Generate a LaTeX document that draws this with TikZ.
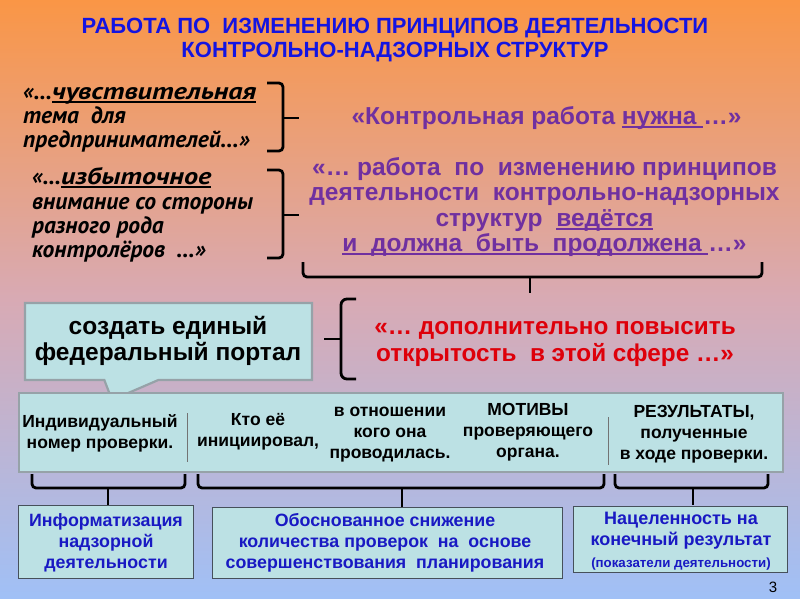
\documentclass[tikz,border=0pt]{standalone}
\usepackage{fontspec}
\setmainfont{Liberation Sans}
\newfontfamily\italfont{PT Sans}
\newfontfamily\italwide[FakeStretch=1.2]{PT Sans}
\newsavebox\ulbox
\newcommand\uln[1]{\sbox\ulbox{#1}\rlap{\rule[-3.4pt]{\wd\ulbox}{1.7pt}}\usebox\ulbox}
\usetikzlibrary{shapes.callouts}
\definecolor{titleblue}{RGB}{20,20,225}
\definecolor{purp}{RGB}{112,48,160}
\definecolor{redt}{RGB}{222,0,10}
\definecolor{boxfill}{RGB}{188,225,228}
\definecolor{boxline}{RGB}{150,162,168}
\definecolor{darkline}{RGB}{70,80,90}
\definecolor{boxblue}{RGB}{25,25,195}
\definecolor{bgtop}{RGB}{250,150,70}
\definecolor{bgmid}{RGB}{216,170,180}
\definecolor{bgbot}{RGB}{160,192,246}
\begin{document}
\begin{tikzpicture}[x=1pt,y=-1pt,
  brace/.style={draw=black, line width=2.8pt, rounded corners=4pt},
  lightbox/.style={draw=boxline, line width=2.2pt, fill=boxfill},
  bottombox/.style={draw=darkline, line width=1.4pt, fill=boxfill},
  quote/.style={align=left, inner sep=0pt, text=black, font=\italfont\bfseries\itshape\fontsize{23.5}{24.3}\selectfont},
  purple/.style={align=center, inner sep=0pt, text=purp, font=\bfseries\fontsize{24.5}{25.5}\selectfont},
  coltext/.style={align=center, inner sep=0pt, text=black, font=\bfseries\fontsize{17.5}{21}\selectfont},
  boxtext/.style={align=center, inner sep=0pt, text=boxblue, font=\bfseries\fontsize{17.8}{21.3}\selectfont}]
\useasboundingbox (0,0) rectangle (800,598);
\fill[top color=bgtop, bottom color=bgbot, middle color=bgmid] (0,0) rectangle (800,598);

% title
\node[align=center, inner sep=0pt, text=titleblue, font=\bfseries\fontsize{22}{24}\selectfont] (title) at (395,40)
  {РАБОТА ПО\ \ ИЗМЕНЕНИЮ ПРИНЦИПОВ ДЕЯТЕЛЬНОСТИ\\КОНТРОЛЬНО-НАДЗОРНЫХ СТРУКТУР};

% left quotes
\node[quote, anchor=west] (q1) at (23,120) {«…{\italwide\uln{чувствительная}}\\тема\ \ для\\предпринимателей…»};
\node[quote, anchor=west] (q2) at (32,215) {«…{\italwide\uln{избыточное}}\\внимание со стороны\\разного рода\\контролёров\ \ …»};

% right brackets
\draw[brace] (267,83) -- (283,83) -- (283,151) -- (267,151);
\draw[brace] (283,118) -- (299,118);
\draw[brace] (267,170) -- (283,170) -- (283,258) -- (267,258);
\draw[brace] (283,215) -- (299,215);

% purple texts
\node[purple] (p1) at (546.5,118) {«Контрольная работа \uln{нужна }…»};
\node[purple] (p2) at (544.5,207) {«… работа\ \ по\ \ изменению принципов\\деятельности\ \ контрольно-надзорных\\структур\ \ \uln{ведётся}\\\uln{и\ \ должна\ \ быть\ \ продолжена }…»};

% under brace
\draw[brace] (303,262) -- (303,277) -- (762,277) -- (762,262);
\draw[brace] (530,277) -- (530,293);

% callout
\node[rectangle callout, lightbox, minimum width=287pt, minimum height=77pt,
  callout absolute pointer={(112,400)}, callout pointer width=54pt] (portal) at (168.5,341.5) {};
\node[align=center, inner sep=0pt, font=\bfseries\fontsize{24.5}{26}\selectfont] (portaltext) at (168,341) {создать единый\\федеральный портал};

% left curly bracket
\draw[brace, rounded corners=6pt] (356,299) -- (341,299) -- (341,379) -- (356,379);
\draw[brace] (341,339) -- (324,339);

\node[align=center, inner sep=0pt, text=redt, font=\bfseries\fontsize{24.3}{26.5}\selectfont] (red) at (555,344)
  {«… дополнительно повысить\\открытость\ \ в этой сфере …»};

% table
\node[lightbox, minimum width=764pt, minimum height=79pt, anchor=north west] (table) at (18,392) {};
\draw[black!55, line width=1pt] (187,413) -- (187,462);
\draw[black!55, line width=1pt] (608,417) -- (608,465);
\node[coltext] (c1) at (100,433) {Индивидуальный\\номер проверки.};
\node[coltext] (c2) at (258,432) {Кто её\\инициировал,};
\node[coltext] (c3) at (390,434.5) {в отношении\\кого она\\проводилась.};
\node[coltext] (c4) at (528,432.5) {МОТИВЫ\\проверяющего\\органа.};
\node[coltext] (c5) at (694,434.5) {РЕЗУЛЬТАТЫ,\\полученные\\в ходе проверки.};

% under-table braces
\draw[brace] (32,474) -- (32,488) -- (185,488) -- (185,474);
\draw[brace] (108,488) -- (108,506);
\draw[brace] (198,474) -- (198,488) -- (604,488) -- (604,474);
\draw[brace] (402,488) -- (402,508);
\draw[brace] (615,474) -- (615,488) -- (768,488) -- (768,474);
\draw[brace] (693,488) -- (693,505);

% bottom boxes
\node[bottombox, minimum width=175pt, minimum height=73pt, anchor=north west] (b1) at (18,505) {};
\node[boxtext] (b1t) at (106,543) {Информатизация\\надзорной\\деятельности};
\node[bottombox, minimum width=350pt, minimum height=71pt, anchor=north west] (b2) at (212,507) {};
\node[boxtext] (b2t) at (385,543) {Обоснованное снижение\\количества проверок\ \ на\ \ основе\\совершенствования\ \ планирования};
\node[bottombox, minimum width=214pt, minimum height=66pt, anchor=north west] (b3) at (573,506) {};
\node[align=center, inner sep=0pt, text=boxblue, font=\bfseries\fontsize{18}{21.5}\selectfont] (b3t) at (681,541)
  {Нацеленность на\\конечный результат\\{\fontsize{13.3}{16}\selectfont (показатели деятельности)}};

\node[inner sep=0pt, font=\fontsize{15}{18}\selectfont] (pagenum) at (773,587) {3};
\end{tikzpicture}
\end{document}
